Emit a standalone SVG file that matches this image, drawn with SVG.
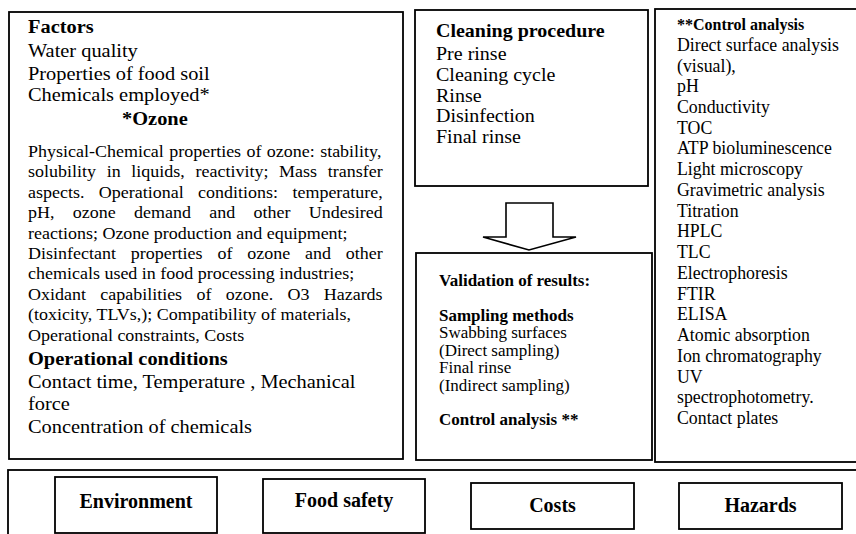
<svg xmlns="http://www.w3.org/2000/svg" width="856" height="534" viewBox="0 0 856 534">
<style>
.box{fill:#fff;stroke:#000;stroke-width:1.8}
.t{font-family:"Liberation Serif","Times New Roman",serif;fill:#000}
.big{font-size:18.2px}
.sm{font-size:16.07px}
.cl{font-size:17.86px}
.md{font-size:16.2px}
.ca{font-size:17.8px}
.b{font-weight:bold}
.c{text-anchor:middle}
</style>
<rect width="856" height="534" fill="#fff"/>
<g id="factors">
<rect class="box" x="9" y="12" width="394" height="447"/>
<g transform="translate(28 0) scale(1.12 1)">
<text class="t big b" x="0" y="33">Factors</text>
<text class="t big" x="0" y="57">Water quality</text>
<text class="t big" x="0" y="80">Properties of food soil</text>
<text class="t big" x="0" y="101.5">Chemicals employed*</text>
<text class="t big b" x="84" y="125">*Ozone</text>
<text class="t sm" x="0" y="157" word-spacing="0.78">Physical-Chemical properties of ozone: stability,</text>
<text class="t sm" x="0" y="177.4" word-spacing="5.54">solubility in liquids, reactivity; Mass transfer</text>
<text class="t sm" x="0" y="197.8" word-spacing="8.84">aspects. Operational conditions: temperature,</text>
<text class="t sm" x="0" y="218.2" word-spacing="12.32">pH, ozone demand and other Undesired</text>
<text class="t sm" x="0" y="238.6">reactions; Ozone production and equipment;</text>
<text class="t sm" x="0" y="259" word-spacing="9.2">Disinfectant properties of ozone and other</text>
<text class="t sm" x="0" y="279.4">chemicals used in food processing industries;</text>
<text class="t sm" x="0" y="299.8" word-spacing="8.75">Oxidant capabilities of ozone. O3 Hazards</text>
<text class="t sm" x="0" y="320.2">(toxicity, TLVs,); Compatibility of materials,</text>
<text class="t sm" x="0" y="340.6">Operational constraints, Costs</text>
<text class="t big b" x="0" y="365">Operational conditions</text>
<text class="t big" x="0" y="388">Contact time, Temperature , Mechanical</text>
<text class="t big" x="0" y="410">force</text>
<text class="t big" x="0" y="433">Concentration of chemicals</text>
</g>
</g>
<g id="cleaning">
<rect class="box" x="415" y="10" width="233" height="176"/>
<g transform="translate(436 0) scale(1.12 1)">
<text class="t cl b" x="0" y="37">Cleaning procedure</text>
<text class="t cl" x="0" y="60">Pre rinse</text>
<text class="t cl" x="0" y="81">Cleaning cycle</text>
<text class="t cl" x="0" y="102">Rinse</text>
<text class="t cl" x="0" y="122.5">Disinfection</text>
<text class="t cl" x="0" y="143.5">Final rinse</text>
</g>
</g>
<g id="connectors">
<polygon points="506,203 553,203 553,237 576,237 529,250 483,237 506,237" fill="#fff" stroke="#000" stroke-width="1.6" stroke-linejoin="miter"/>
</g>
<g id="validation">
<rect class="box" x="416" y="253" width="236" height="207"/>
<g transform="translate(439 0) scale(1.05 1)">
<text class="t md b" x="0" y="286">Validation of results:</text>
<text class="t md b" x="0" y="321">Sampling methods</text>
<text class="t md" x="0" y="338.5">Swabbing surfaces</text>
<text class="t md" x="0" y="356">(Direct sampling)</text>
<text class="t md" x="0" y="373.5">Final rinse</text>
<text class="t md" x="0" y="391">(Indirect sampling)</text>
<text class="t md b" x="0" y="425">Control analysis **</text>
</g>
</g>
<g id="control-analysis">
<rect class="box" x="655" y="9" width="210" height="453"/>
<text class="t b" font-size="16" x="677" y="30">**Control analysis</text>
<text class="t ca" x="677" y="50.7">Direct surface analysis</text>
<text class="t ca" x="677" y="71.5">(visual),</text>
<text class="t ca" x="677" y="92.2">pH</text>
<text class="t ca" x="677" y="113">Conductivity</text>
<text class="t ca" x="677" y="133.7">TOC</text>
<text class="t ca" x="677" y="154.4">ATP bioluminescence</text>
<text class="t ca" x="677" y="175.2">Light microscopy</text>
<text class="t ca" x="677" y="195.9">Gravimetric analysis</text>
<text class="t ca" x="677" y="216.7">Titration</text>
<text class="t ca" x="677" y="237.4">HPLC</text>
<text class="t ca" x="677" y="258.1">TLC</text>
<text class="t ca" x="677" y="278.9">Electrophoresis</text>
<text class="t ca" x="677" y="299.6">FTIR</text>
<text class="t ca" x="677" y="320.4">ELISA</text>
<text class="t ca" x="677" y="341.1">Atomic absorption</text>
<text class="t ca" x="677" y="361.8">Ion chromatography</text>
<text class="t ca" x="677" y="382.6">UV</text>
<text class="t ca" x="677" y="403.3">spectrophotometry.</text>
<text class="t ca" x="677" y="424">Contact plates</text>
</g>
<g id="outcomes">
<rect class="box" x="8" y="470" width="860" height="80"/>
</g>
<g id="environment">
<rect class="box" x="55" y="477" width="162" height="56"/>
<text class="t b c" font-size="20" x="136" y="508">Environment</text>
</g>
<g id="food-safety">
<rect class="box" x="263" y="479" width="162" height="54"/>
<text class="t b c" font-size="20" x="344" y="507">Food safety</text>
</g>
<g id="costs">
<rect class="box" x="471" y="483" width="163" height="46"/>
<text class="t b c" font-size="20" x="552.5" y="512">Costs</text>
</g>
<g id="hazards">
<rect class="box" x="679" y="483" width="163" height="46"/>
<text class="t b c" font-size="20" x="760.5" y="512">Hazards</text>
</g>
</svg>
